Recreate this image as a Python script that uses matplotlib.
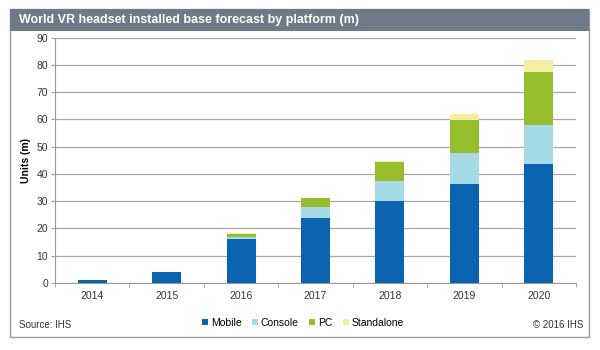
import numpy as np
import matplotlib
matplotlib.use('Agg')
import matplotlib.pyplot as plt
from matplotlib.patches import Rectangle

plt.rcParams['font.family'] = ['Liberation Sans', 'DejaVu Sans']

# data (millions of units)
years = ['2014', '2015', '2016', '2017', '2018', '2019', '2020']
mobile = [1.0, 4.0, 16.1, 23.8, 29.9, 36.4, 43.7]
console = [0.0, 0.0, 0.9, 4.1, 7.5, 11.2, 14.1]
pc = [0.0, 0.0, 1.0, 3.2, 6.9, 12.2, 19.4]
standalone = [0.0, 0.0, 0.3, 0.2, 0.6, 2.3, 4.5]

series = [('Mobile', mobile, '#0a64b0'),
          ('Console', console, '#a6dbe6'),
          ('PC', pc, '#95bd2e'),
          ('Standalone', standalone, '#f3eea4')]

W, H = 600, 350
fig = plt.figure(figsize=(6, 3.5), dpi=100)

# outer frame and title bar
fig.patches.append(Rectangle((10 / W, 13 / H), 579 / W, 328 / H, transform=fig.transFigure,
                             facecolor='none', edgecolor='#9a9a9a', linewidth=1, zorder=0))
fig.patches.append(Rectangle((10 / W, (H - 31) / H), 579 / W, 22 / H, transform=fig.transFigure,
                             facecolor='#6e7a87', edgecolor='none', zorder=1))
fig.text(19 / W, (H - 20) / H, 'World VR headset installed base forecast by platform (m)',
         color='white', fontsize=9, fontweight='bold', va='center', ha='left')

ax = fig.add_axes([55 / W, (H - 283) / H, 521 / W, 245.5 / H])
ax.patch.set_alpha(0)
x = np.arange(len(years))
bottom = np.zeros(len(years))
for name, vals, col in series:
    ax.bar(x, vals, width=0.39, bottom=bottom, color=col, label=name, zorder=3)
    bottom += np.array(vals)

ax.set_xlim(-0.5, len(years) - 0.5)
ax.set_ylim(0, 90)
ax.set_yticks(np.arange(0, 91, 10))
ax.set_xticks(x)
ax.set_xticklabels(years)
ax.set_xticks(np.arange(-0.5, len(years), 1), minor=True)
ax.tick_params(axis='x', which='major', length=0, labelsize=7.5, pad=6, colors='#333333')
ax.tick_params(axis='x', which='minor', length=3, color='#9a9a9a', direction='out')
ax.tick_params(axis='y', length=3, color='#9a9a9a', labelsize=7.5, colors='#333333', pad=2)
ax.yaxis.grid(True, color='#a8a8a8', linewidth=0.9, zorder=0)
ax.set_axisbelow(True)
for s in ['top', 'right']:
    ax.spines[s].set_visible(False)
for s in ['left', 'bottom']:
    ax.spines[s].set_color('#9a9a9a')
ax.set_ylabel('Units (m)', fontsize=7.5, fontweight='bold', labelpad=4)

fig.legend(loc='center', bbox_to_anchor=(303 / W, (H - 323) / H), ncol=4, frameon=False,
           fontsize=7.5, handlelength=0.55, handleheight=0.55, handletextpad=0.3,
           columnspacing=1.0)
fig.text(19 / W, (H - 325) / H, 'Source: IHS', fontsize=7, va='center', ha='left', color='#333333')
fig.text(583 / W, (H - 325) / H, '\u00a9 2016 IHS', fontsize=7, va='center', ha='right', color='#333333')

fig.savefig('out.png', dpi=100)
